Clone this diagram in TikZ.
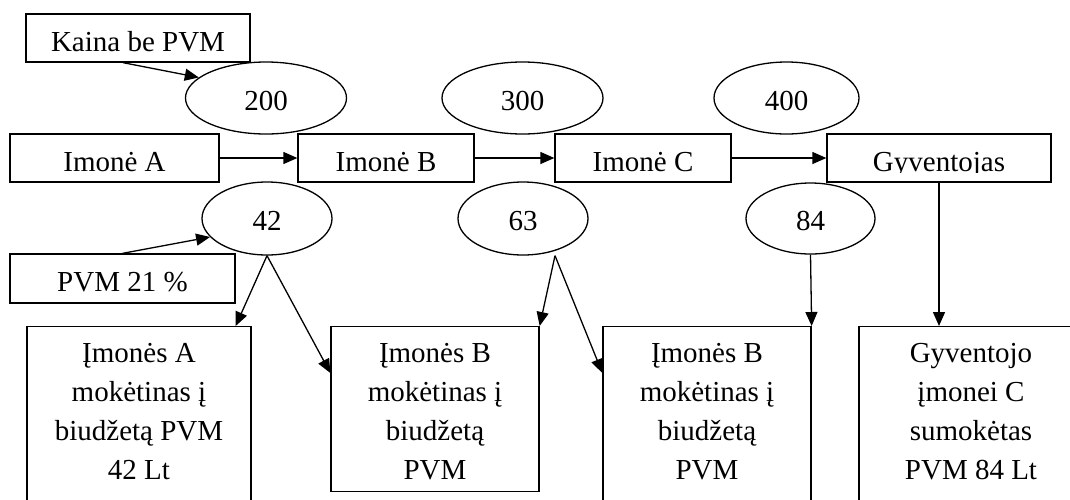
\documentclass[tikz,border=0pt]{standalone}
\usepackage{fontspec}
\setmainfont{Liberation Serif}
\usetikzlibrary{shapes.geometric,arrows.meta}

\begin{document}
\begin{tikzpicture}[
  x=1pt, y=-1pt,
  every node/.style={font=\fontsize{29}{39}\selectfont},
  box/.style={draw, rectangle, line width=1.3pt, inner sep=0pt,
              text height=26pt, text depth=0pt},
  oval/.style={draw, ellipse, line width=1.3pt, inner sep=0pt,
               text height=24pt, text depth=0pt},
  tallbox/.style={draw, rectangle, line width=1.3pt, inner sep=0pt, anchor=north},
  boxtext/.style={align=center, anchor=north, inner sep=0pt},
  arr/.style={-{Triangle[length=14pt,width=12pt]}, line width=1.3pt},
]
% page
\fill[white] (0,0) rectangle (1070,499);
\useasboundingbox (0,0) rectangle (1070,499);

% price labels and flow of firms
\node[box, minimum width=224pt, minimum height=48pt] (kaina) at (138,38) {Kaina be PVM};
\node[oval, minimum width=161pt, minimum height=72pt] (e200) at (266,98) {200};
\node[oval, minimum width=161pt, minimum height=72pt] (e300) at (522.5,98) {300};
\node[oval, minimum width=145pt, minimum height=72pt] (e400) at (786.5,98) {400};

\node[box, minimum width=209pt, minimum height=48pt] (ia) at (114.5,158) {Imonė A};
\node[box, minimum width=176pt, minimum height=48pt] (ib) at (386,158) {Imonė B};
\node[box, minimum width=176pt, minimum height=48pt] (ic) at (643,158) {Imonė C};
\node[box, minimum width=224pt, minimum height=48pt] (gy) at (939,158) {};
\begin{scope}
  \clip (gy.north west) rectangle ([yshift=10.5pt]gy.south east);
  \node[box, draw=none] at (gy.center) {Gyventojas};
\end{scope}

% VAT amounts
\node[oval, minimum width=130pt, minimum height=73pt] (e42) at (267,218.5) {42};
\node[oval, minimum width=130pt, minimum height=73pt] (e63) at (523,218.5) {63};
\node[oval, minimum width=129pt, minimum height=71pt] (e84) at (810.5,218.5) {84};
\node[box, minimum width=225pt, minimum height=49pt] (pvm) at (122.5,278.5) {PVM 21 \%};

% budget boxes
\node[tallbox, minimum width=224pt, minimum height=210pt] (ba) at (139,326) {};
\node[tallbox, minimum width=208pt, minimum height=165pt] (bb) at (435,326) {};
\node[tallbox, minimum width=208pt, minimum height=210pt] (bc) at (707,326) {};
\node[tallbox, minimum width=224pt, minimum height=210pt] (bg) at (971,326) {};

\node[boxtext] at ([yshift=-17.5pt]ba.north) {Įmonės A\\mokėtinas į\\biudžetą PVM\\42 Lt};
\node[boxtext] at ([yshift=-17.5pt]bb.north) {Įmonės B\\mokėtinas į\\biudžetą\\PVM};
\node[boxtext] at ([yshift=-17.5pt]bc.north) {Įmonės B\\mokėtinas į\\biudžetą\\PVM};
\node[boxtext] at ([yshift=-17.5pt]bg.north) {Gyventojo\\įmonei C\\sumokėtas\\PVM 84 Lt};

% connectors
\draw[arr] ([xshift=-15pt]kaina.south) -- (e200.163);
\draw[arr] (ia.east) -- (ib.west);
\draw[arr] (ib.east) -- (ic.west);
\draw[arr] (ic.east) -- (gy.west);
\draw[arr] (pvm.north) -- (e42.198);
\draw[arr] (e42.south) -- ([xshift=-16pt]ba.north east);
\draw[arr] (e42.south) -- ([yshift=-47pt]bb.north west);
\draw[arr] ([xshift=32pt]e63.south) -- (bb.north east);
\draw[arr] ([xshift=32pt]e63.south) -- ([yshift=-47pt]bc.north west);
\draw[arr] (e84.south) -- (bc.north east);
\draw[arr] (gy.south) -- (gy.south |- bg.north);
\end{tikzpicture}
\end{document}
